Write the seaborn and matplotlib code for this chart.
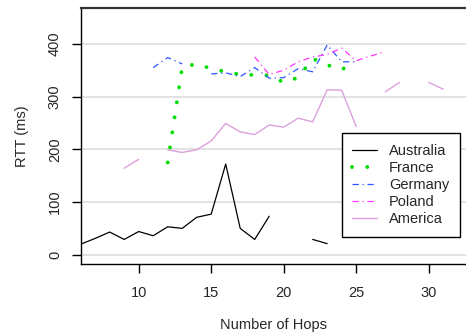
import numpy as np
import pandas as pd
import seaborn as sns
import matplotlib.pyplot as plt
from matplotlib.lines import Line2D

nan = np.nan

hops = list(range(6, 33))

australia = [20, 31, 43, 29, 44, 36, 53, 50, 71, 77, 172, 50, 29, 73,
             nan, nan, 29, 21, nan, nan, nan, nan, nan, nan, nan, nan, nan]
france = [nan, nan, nan, nan, nan, nan, 175, 356, 362, 353, 347, 342, 341, 340,
          327, 336, 372, 360, 351, 368, nan, nan, nan, nan, nan, nan, nan]
germany = [nan, nan, nan, nan, nan, 355, 374, 362, nan, 343, 345, 338, 355, 335,
           336, 353, 347, 398, 366, 366, nan, nan, nan, nan, nan, nan, nan]
poland = [nan, nan, nan, nan, nan, nan, nan, nan, nan, nan, nan, nan, 375, 342,
          350, 366, 375, 380, 392, 368, 377, 385, nan, nan, nan, nan, nan]
america = [nan, nan, nan, 164, 181, nan, 199, 194, 199, 216, 249, 233, 228, 246,
           242, 259, 252, 313, 312, 243, nan, 309, 327, nan, 327, 314, nan]

series = ['Australia', 'France', 'Germany', 'Poland', 'America']
values = [australia, france, germany, poland, america]
colors = ['black', '#00dd00', '#2a55ff', '#ff33ff', '#dda0dd']
styles = [dict(linestyle='-', linewidth=0.9),
          dict(linestyle=(0, (0.01, 3.9)), linewidth=2.8, dash_capstyle='round'),
          dict(linestyle=(0, (5.0, 3.0, 1.0, 3.0)), linewidth=0.9),
          dict(linestyle=(0, (5.0, 3.0, 1.0, 3.0)), linewidth=0.9),
          dict(linestyle='-', linewidth=1.0)]


def to_frame(vals):
    df = pd.DataFrame({'hop': hops, 'rtt': vals})
    # break the line at missing hops: each run of values gets its own unit
    df['seg'] = df['rtt'].isna().cumsum()
    return df.dropna()


sns.set_theme(style='white')
plt.rcParams['font.family'] = ['Liberation Sans', 'DejaVu Sans']

fig = plt.figure(figsize=(4.66, 3.36), dpi=100)
ax = fig.add_axes([80.7 / 466, 72 / 336, 1 - 80.7 / 466, 256.5 / 336])

for name, vals, color, st in zip(series, values, colors, styles):
    sns.lineplot(data=to_frame(vals), x='hop', y='rtt', units='seg', estimator=None,
                 color=color, ax=ax, legend=False, **st)

ax.set_xlim(6, 6 + (466 - 80.7) / 14.5)
ax.set_ylim(-17.6, 469)
ax.set_xticks([10, 15, 20, 25, 30])
ax.set_yticks([0, 100, 200, 300, 400])
ax.grid(axis='y', color='#dddddd', linewidth=1.2)
ax.set_axisbelow(True)

for side in ['left', 'bottom']:
    ax.spines[side].set_color('black')
    ax.spines[side].set_linewidth(1.0)
ax.spines['top'].set_color('#333333')
ax.spines['top'].set_linewidth(1.6)
ax.spines['right'].set_visible(False)

ax.tick_params(axis='both', which='major', direction='out', length=6.5, width=1.0,
               color='black', labelsize=10.5, left=True, bottom=True)
ax.tick_params(axis='y', pad=7)
ax.tick_params(axis='x', pad=9)
for lab in ax.get_yticklabels():
    lab.set_rotation(90)
    lab.set_va('center')

ax.set_xlabel('Number of Hops', fontsize=10.5, labelpad=13)
ax.set_ylabel('RTT (ms)', fontsize=10.5, labelpad=14)

handles = [Line2D([], [], color=c, **st) for c, st in zip(colors, styles)]
leg = ax.legend(handles, series, loc='upper left', bbox_to_anchor=(0.677, 0.51),
                borderaxespad=0, fontsize=10.5, handlelength=1.7, handletextpad=0.8,
                labelspacing=0.2, borderpad=0.75, fancybox=False, framealpha=1)
leg.get_frame().set_edgecolor('black')
leg.get_frame().set_linewidth(1.0)

fig.savefig('out.png', dpi=100)
